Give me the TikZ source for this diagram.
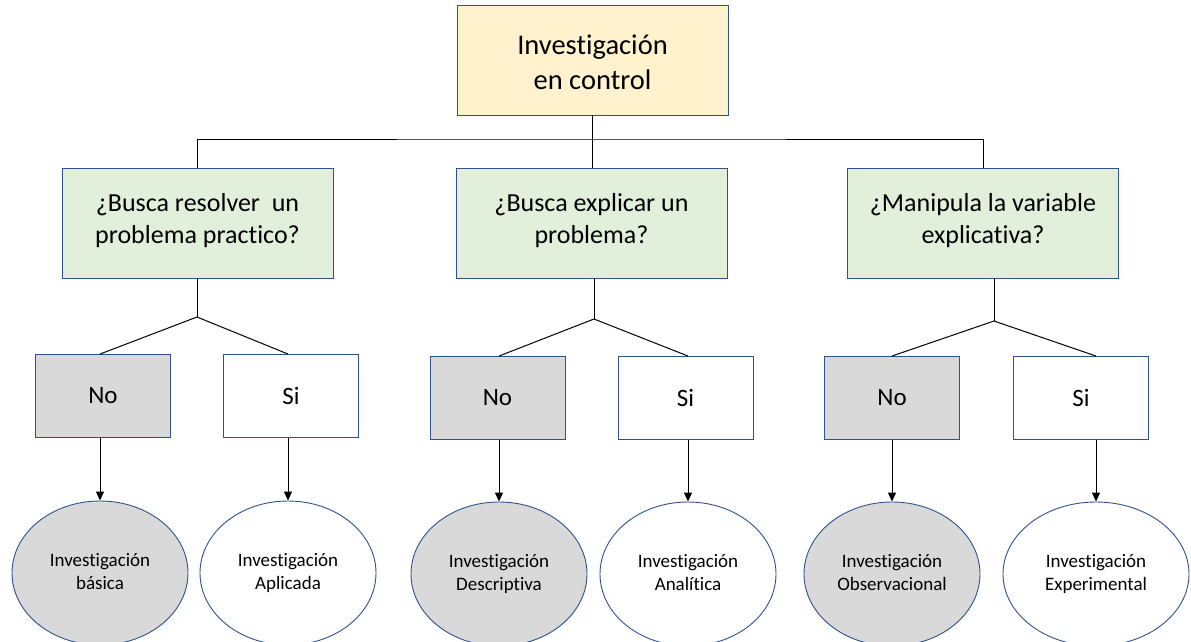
\documentclass[tikz,border=0pt]{standalone}
\usepackage{fontspec}
\setmainfont[Ligatures={NoCommon}]{Carlito}
\usetikzlibrary{shapes.geometric,arrows.meta}
\definecolor{edge}{HTML}{2F528F}
\definecolor{topfill}{HTML}{FFF2CC}
\definecolor{qfill}{HTML}{E2EFDA}
\definecolor{nofill}{HTML}{D9D9D9}
\begin{document}
\begin{tikzpicture}[x=1pt,y=-1pt,
  box/.style={draw=edge,line width=0.9pt,rectangle,inner sep=0pt,align=center},
  rootbox/.style={box,fill=topfill,minimum width=271pt,minimum height=110pt,font=\fontsize{28.5}{35}\selectfont},
  qbox/.style={box,fill=qfill,minimum width=271pt,minimum height=110pt,font=\fontsize{26}{32}\selectfont},
  ansbox/.style={box,minimum width=135pt,minimum height=83pt,font=\fontsize{25}{30}\selectfont},
  nobox/.style={ansbox,fill=nofill},
  sibox/.style={ansbox,fill=white},
  leaf/.style={ellipse,draw=edge,line width=0.9pt,minimum width=176pt,minimum height=144pt,inner sep=0pt,align=center,font=\fontsize{19}{23}\selectfont},
  noleaf/.style={leaf,fill=nofill},
  sileaf/.style={leaf,fill=white},
  link/.style={line width=1pt,black},
  arr/.style={link,-{Triangle[length=9pt,width=8pt]}}
]
\useasboundingbox (0,0) rectangle (1191,642);
\clip (0,0) rectangle (1191,642);

% root and the three questions
\node[rootbox] (root) at (592.5,60) {\strut Investigación\\en control};
\node[qbox] (q1) at (197.5,223) {¿Busca resolver \ un\\problema practico?\strut};
\node[qbox] (q2) at (591.5,223) {¿Busca explicar un\\problema?\strut};
\node[qbox] (q3) at (983,223) {¿Manipula la variable\\explicativa?\strut};

% answers
\node[nobox] (no1) at (103,396) {No};
\node[sibox] (si1) at (291,396) {Si};
\node[nobox] (no2) at (497.5,398) {No};
\node[sibox] (si2) at (685.5,398) {Si};
\node[nobox] (no3) at (892,398) {No};
\node[sibox] (si3) at (1081,398) {Si};

% resulting kinds of research
\node[noleaf] (e1) at (100,573) {\strut Investigación\\básica\strut};
\node[sileaf] (e2) at (288,573) {\strut Investigación\\Aplicada\strut};
\node[noleaf] (e3) at (499,574) {\strut Investigación\\Descriptiva\strut};
\node[sileaf] (e4) at (688,574) {\strut Investigación\\Analítica\strut};
\node[noleaf] (e5) at (892,574) {\strut Investigación\\Observacional\strut};
\node[sileaf,minimum width=186pt] (e6) at (1096,574) {\strut Investigación\\Experimental\strut};

% top bus
\coordinate (bus) at (592,139);
\draw[link] (root.south) -- (root.south |- q2.north);
\draw[link] (q1.north) |- (bus) -| (q3.north);

% branch points below the questions
\coordinate (b1) at (197,317);
\coordinate (b2) at (594,319);
\coordinate (b3) at (994,321);
\draw[link] (q1.south -| b1) -- (b1);
\draw[link] (q2.south -| b2) -- (b2);
\draw[link] (q3.south -| b3) -- (b3);
\draw[link] (no1.north -| e1) -- (b1) -- (si1.north -| e2);
\draw[link] (no2.north -| e3) -- (b2) -- (si2.north -| e4);
\draw[link] (no3.north -| e5) -- (b3) -- (si3.north -| e6);

% arrows to the leaves
\draw[arr] (no1.south -| e1) -- (e1.north);
\draw[arr] (si1.south -| e2) -- (e2.north);
\draw[arr] (no2.south -| e3) -- (e3.north);
\draw[arr] (si2.south -| e4) -- (e4.north);
\draw[arr] (no3.south -| e5) -- (e5.north);
\draw[arr] (si3.south -| e6) -- (e6.north);
\end{tikzpicture}
\end{document}
